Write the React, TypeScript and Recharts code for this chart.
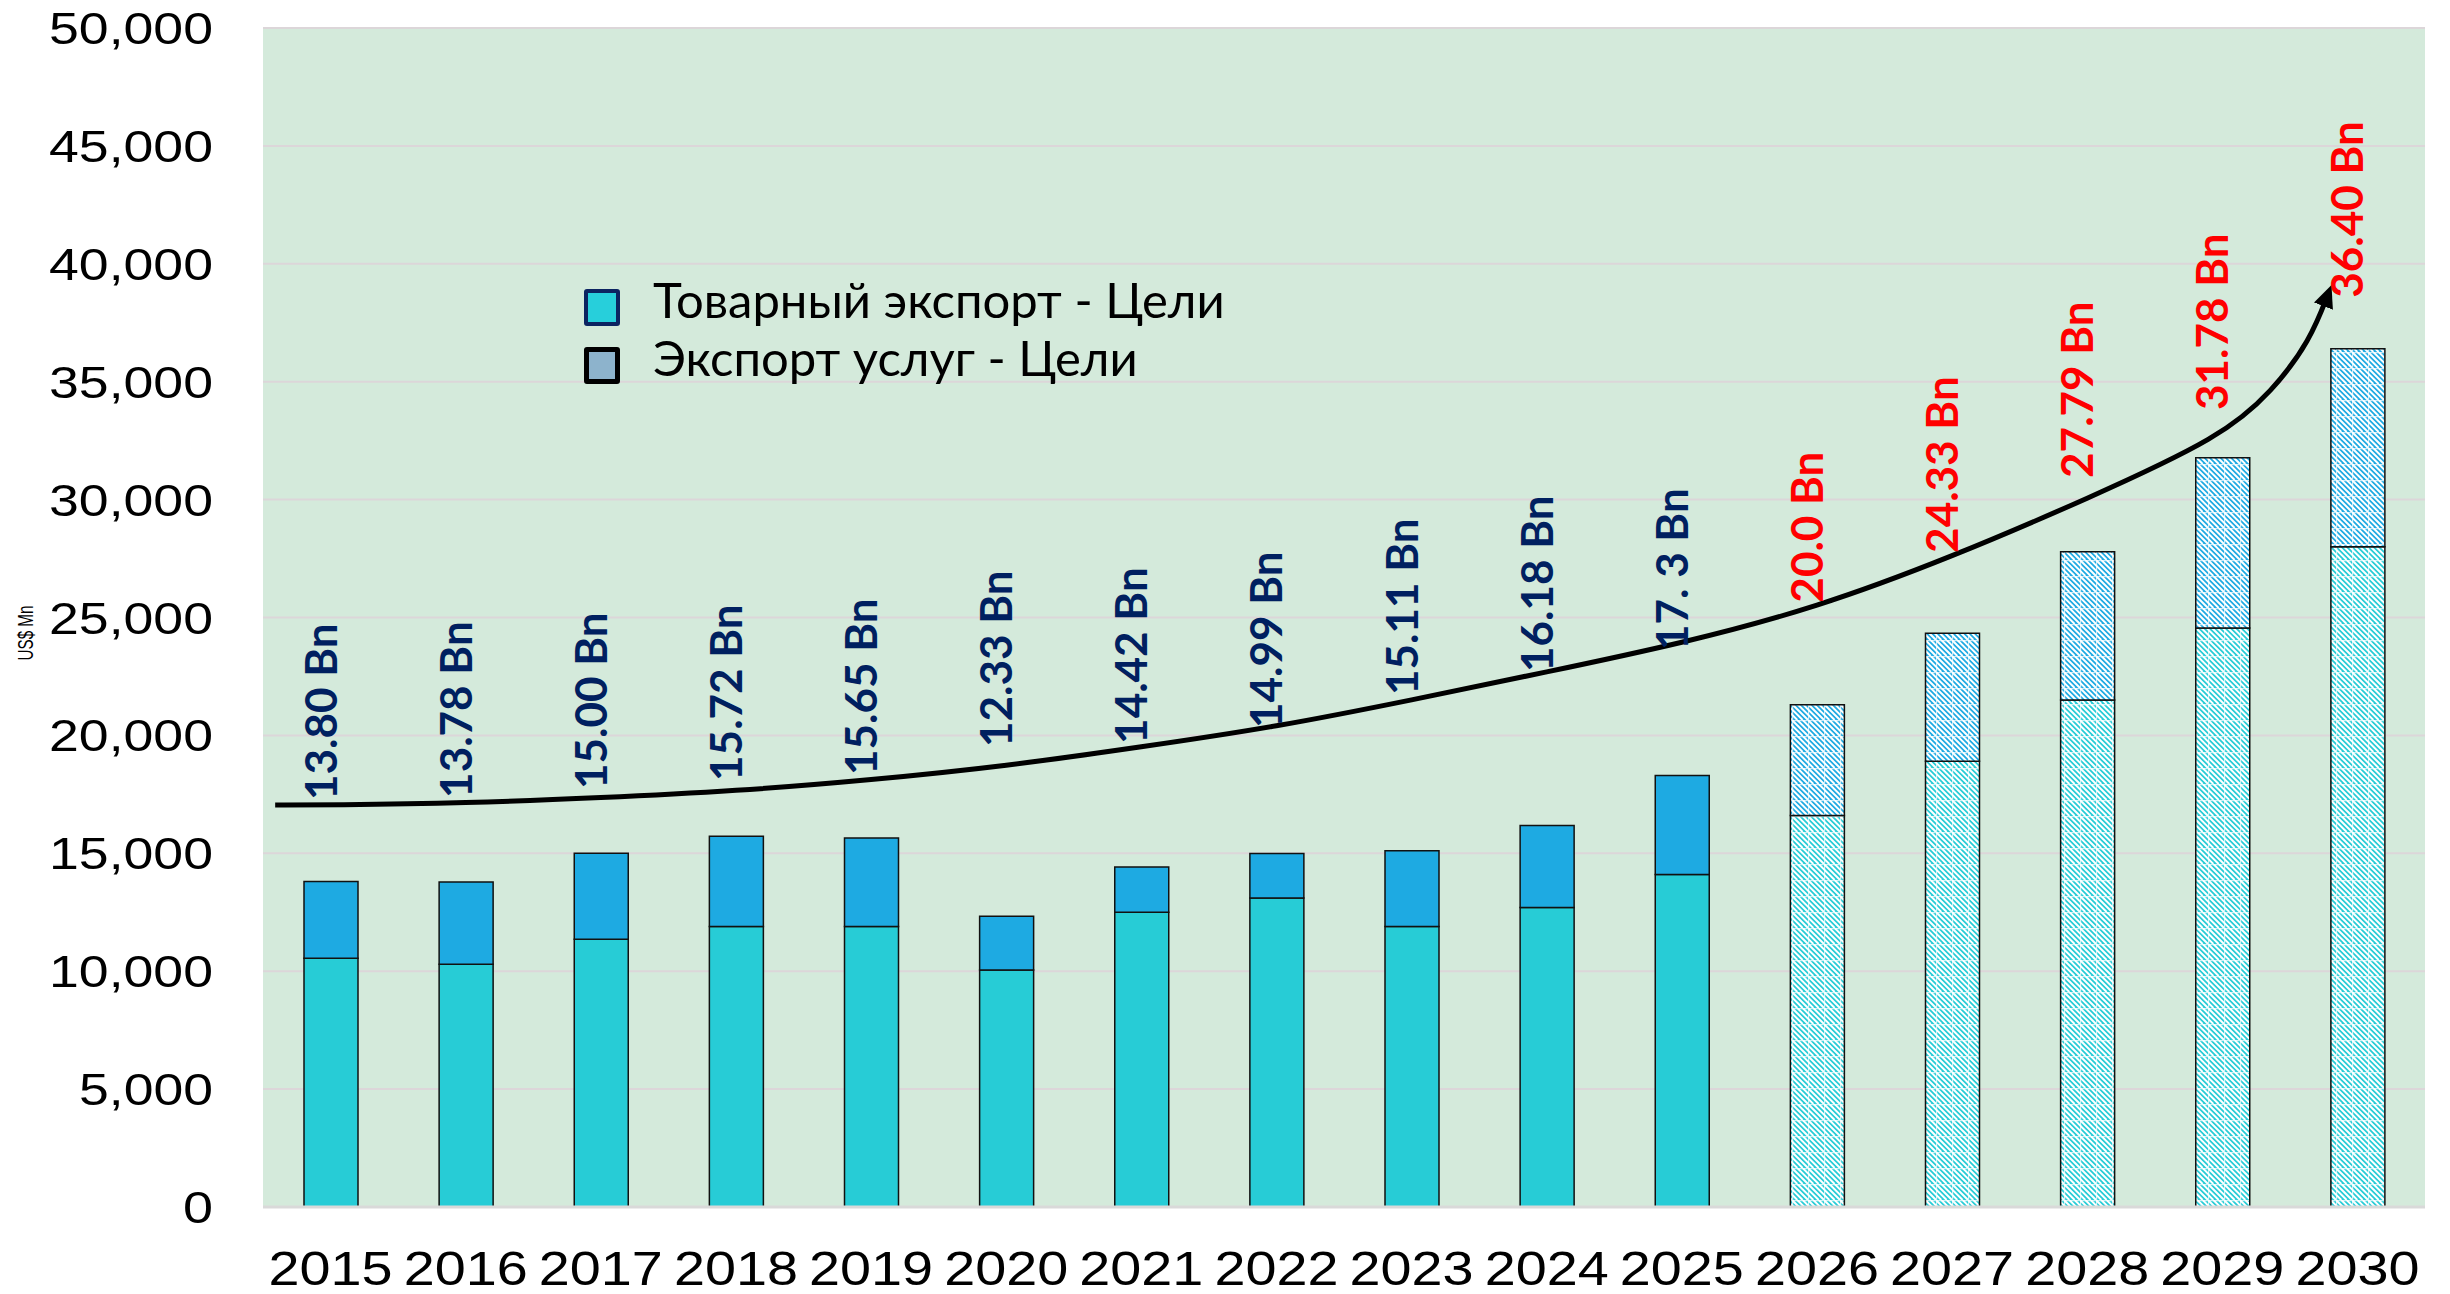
import React from 'react'
import {
  ComposedChart,
  Bar,
  Line,
  Cell,
  XAxis,
  YAxis,
  CartesianGrid,
  Legend,
  LabelList,
  Label,
} from 'recharts'

// years on the category axis
const years = ['2015', '2016', '2017', '2018', '2019', '2020', '2021', '2022', '2023', '2024', '2025', '2026', '2027', '2028', '2029', '2030']

// US$ Mn
const goodsExports = [10550, 10300, 11350, 11900, 11900, 10050, 12500, 13100, 11900, 12700, 14100, 16600, 18900, 21500, 24550, 28000]
const serviceExports = [3250, 3480, 3650, 3820, 3750, 2280, 1920, 1890, 3210, 3480, 4200, 4700, 5430, 6290, 7230, 8400]

const totalLabels = ['13.80 Bn', '13.78 Bn', '15.00 Bn', '15.72 Bn', '15.65 Bn', '12.33 Bn', '14.42 Bn', '14.99 Bn', '15.11 Bn', '16.18 Bn', '17. 3 Bn', '20.0 Bn', '24.33 Bn', '27.79 Bn', '31.78 Bn', '36.40 Bn']
// value (US$ Mn) at which each rotated label text starts
const labelStartAt = [17260, 17350, 17730, 18070, 18320, 19510, 19640, 20310, 21710, 22690, 23620, 25630, 27740, 30920, 33800, 38560]
const FORECAST_FROM = 11 // 2026 onwards are targets

// growth arrow: [position on the year axis (0 = 2015), value]
const trendX = [-0.41, 0, 1, 2, 3, 4, 5, 6, 7, 8, 9, 10, 11, 12, 13, 14, 14.37, 14.65, 14.79]
const trendValue = [17050, 17050, 17130, 17350, 17640, 18110, 18700, 19510, 20360, 21500, 22690, 23900, 25420, 27570, 30030, 32670, 34600, 36730, 38830]

const yTicks = [0, 5000, 10000, 15000, 20000, 25000, 30000, 35000, 40000, 45000, 50000]

const chartData = years.map((year, i) => ({
  year,
  goods: goodsExports[i],
  services: serviceExports[i],
  label: totalLabels[i],
  labelAt: labelStartAt[i],
}))

const trendData = trendX.map((x, i) => ({ x, value: trendValue[i] }))

const GOODS = '#27CCD6'
const SERVICES = '#1EAAE2'
const TICK_FONT = '"Liberation Sans", Arial, sans-serif'
const LABEL_FONT = 'Lato, "Noto Sans", sans-serif'

const fmt = (v: number) => v.toLocaleString('en-US')

const YTick = ({ x, y, payload }: any) => {
  const text = fmt(payload.value)
  const digits = text.replace(/,/g, '').length
  const commas = text.length - digits
  return (
    <text x={x} y={y} dy={16} textAnchor="end" fontSize={45} fontFamily={TICK_FONT} fill="#000"
      textLength={digits * 30 + commas * 14} lengthAdjust="spacingAndGlyphs">
      {text}
    </text>
  )
}

const XTick = ({ x, y, payload }: any) => (
  <text x={x} y={y + 78} textAnchor="middle" fontSize={48} fontFamily={TICK_FONT} fill="#000"
    textLength={124} lengthAdjust="spacingAndGlyphs">
    {payload.value}
  </text>
)

const TotalLabel = (props: any) => {
  const { x, y, value } = props
  const idx = totalLabels.indexOf(value)
  const color = idx >= FORECAST_FROM ? '#FF0000' : '#002060'
  const bx = x + 6
  const by = y
  return (
    <text x={bx} y={by} transform={`rotate(-90 ${bx} ${by})`} textAnchor="start"
      fontSize={44} fontWeight={700} fontFamily={LABEL_FONT} fill={color}>
      {value}
    </text>
  )
}

const YTitle = () => (
  <text x={33} y={633} transform="rotate(-90 33 633)" textAnchor="middle" fontSize={22}
    fontFamily={TICK_FONT} fill="#000" textLength={55} lengthAdjust="spacingAndGlyphs">
    US$ Mn
  </text>
)

const legendItems = [
  { name: 'Товарный экспорт - Цели', fill: '#27CFDB', border: '4px solid #0C2461' },
  { name: 'Экспорт услуг - Цели', fill: '#8DB3CC', border: '5px solid #000' },
]

const LegendBox = () => (
  <div style={{ display: 'flex', flexDirection: 'column' }}>
    {legendItems.map((item) => (
      <div key={item.name} style={{ display: 'flex', alignItems: 'center', height: 58 }}>
        <div
          style={{
            width: 36,
            height: 37,
            boxSizing: 'border-box',
            border: item.border,
            borderRadius: 3,
            background: item.fill,
            marginRight: 33,
            flexShrink: 0,
          }}
        />
        <span style={{ fontFamily: LABEL_FONT, fontSize: 49, lineHeight: '58px', color: '#000', whiteSpace: 'nowrap', position: 'relative', top: -8 }}>
          {item.name}
        </span>
      </div>
    ))}
  </div>
)

const hatchStripes = 'M-10.67,0 L5.33,16 M-5.33,0 L10.67,16 M0,0 L16,16 M5.33,0 L21.33,16 M10.67,0 L26.67,16'

export default function App() {
  return (
    <div style={{ position: 'absolute', left: 0, top: 0, background: '#fff' }}>
      <ComposedChart width={2450} height={1294} data={chartData} margin={{ top: 28, right: 25, bottom: 0, left: 0 }}>
        <defs>
          <pattern id="hatchGoods" width="16" height="16" patternUnits="userSpaceOnUse">
            <rect width="16" height="16" fill={GOODS} />
            <path d={hatchStripes} stroke="#fff" strokeWidth="2" />
            <path d="M0,0.6 H16 M0.6,0 V16" stroke="#fff" strokeWidth="1.2" opacity="0.75" />
          </pattern>
          <pattern id="hatchServices" width="16" height="16" patternUnits="userSpaceOnUse">
            <rect width="16" height="16" fill={SERVICES} />
            <path d={hatchStripes} stroke="#fff" strokeWidth="2" />
            <path d="M0,0.6 H16 M0.6,0 V16" stroke="#fff" strokeWidth="1.2" opacity="0.75" />
          </pattern>
          <marker id="arrowHead" viewBox="0 0 10 10" refX="7" refY="5" markerWidth="4.5" markerHeight="4.5" orient="auto">
            <path d="M0,0.5 L10,5 L0,9.5 z" fill="#000" />
          </marker>
        </defs>

        <CartesianGrid xAxisId="cat" vertical={false} stroke="#DCD6D9" strokeWidth={2} fill="#D4EADB" />
        <XAxis xAxisId="cat" dataKey="year" interval={0} tickLine={false} tickSize={0} tickMargin={0}
          axisLine={{ stroke: '#D9D9D9', strokeWidth: 3 }} height={87} tick={<XTick />} />
        <XAxis xAxisId="num" dataKey="x" type="number" domain={[-0.5, 15.5]} allowDataOverflow hide />
        <YAxis domain={[0, 50000]} ticks={yTicks} interval={0} axisLine={false} tickLine={false}
          tickSize={0} tickMargin={50} width={263} tick={<YTick />}>
          <Label content={<YTitle />} />
        </YAxis>

        <Legend layout="vertical" align="center" verticalAlign="middle" width={800}
          wrapperStyle={{ left: 584, top: 278 }} content={<LegendBox />} />

        <Bar xAxisId="cat" dataKey="goods" stackId="a" barSize={54} stroke="#111" strokeWidth={1.5} isAnimationActive={false}>
          {chartData.map((d, i) => (
            <Cell key={`g-${d.year}`} fill={i >= FORECAST_FROM ? 'url(#hatchGoods)' : GOODS} />
          ))}
        </Bar>
        <Bar xAxisId="cat" dataKey="services" stackId="a" barSize={54} stroke="#111" strokeWidth={1.5} isAnimationActive={false}>
          {chartData.map((d, i) => (
            <Cell key={`s-${d.year}`} fill={i >= FORECAST_FROM ? 'url(#hatchServices)' : SERVICES} />
          ))}
        </Bar>

        <Line xAxisId="num" data={trendData} dataKey="value" type="basis" stroke="#000" strokeWidth={5}
          dot={false} activeDot={false} markerEnd="url(#arrowHead)" isAnimationActive={false} />

        <Line xAxisId="cat" dataKey="labelAt" stroke="none" dot={false} activeDot={false} isAnimationActive={false}>
          <LabelList dataKey="label" content={<TotalLabel />} />
        </Line>
      </ComposedChart>
    </div>
  )
}
